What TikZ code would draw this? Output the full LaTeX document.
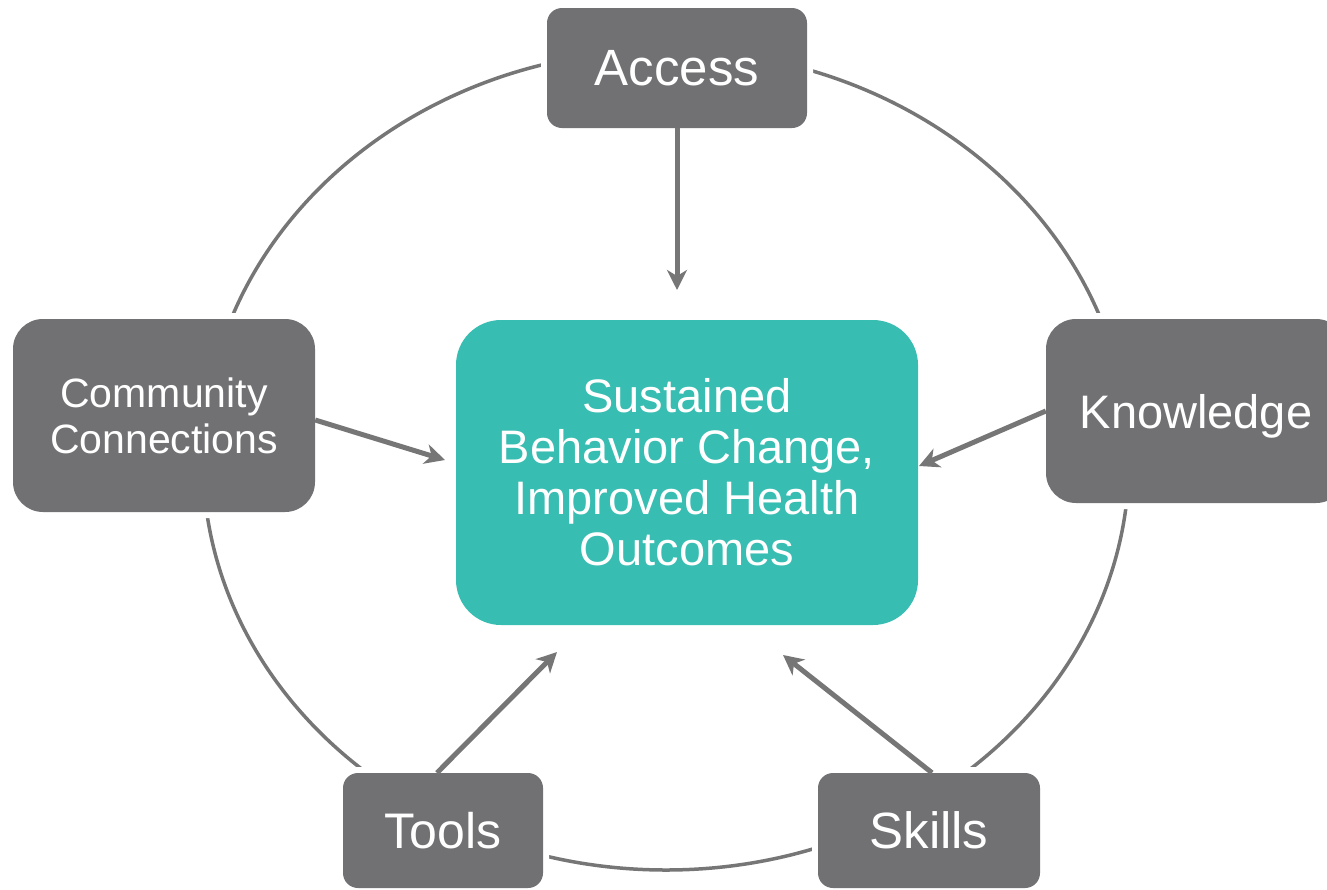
\documentclass[tikz,border=0pt]{standalone}
\usepackage{fontspec}
\setmainfont{Liberation Sans}
\usepackage{tikz}
\usetikzlibrary{arrows.meta}
\usetikzlibrary{positioning}
\usepackage{xcolor}
\definecolor{boxgray}{RGB}{113,112,115}
\definecolor{ringgray}{RGB}{118,118,118}
\definecolor{goalteal}{RGB}{55,189,177}

\begin{document}
\begin{tikzpicture}[x=1pt,y=-1pt]
		\tikzstyle{factor} = [rectangle, fill=boxgray, text=white, text depth=0pt, align=center,
			preaction={draw=white, line width=12pt}]
		\tikzstyle{goal} = [rectangle, fill=goalteal, text=white, align=center, rounded corners=45pt,
			minimum width=462pt, minimum height=305pt, font=\fontsize{47}{51}\selectfont]
		\tikzstyle{feed} = [line width=5pt, draw=ringgray, -{Stealth[length=20pt,width=20pt,inset=6pt]}]
		\useasboundingbox (0,0) rectangle (1327,889);

		% outer ring
		\draw [line width=3.5pt, ringgray] (666,460) ellipse [x radius=463pt, y radius=410pt];

		\node[goal] (outcome) at (687,472.5) {Sustained\\Behavior Change,\\Improved Health\\Outcomes};

		\node[factor, rounded corners=15pt, minimum width=260pt, minimum height=120pt,
			font=\fontsize{51}{56}\selectfont] (access) at (677,68) {Access};
		\node[factor, rounded corners=30pt, minimum width=300pt, minimum height=184pt,
			font=\fontsize{47}{52}\selectfont] (knowledge) at (1196,411) {Knowledge};
		\node[factor, rounded corners=15pt, minimum width=222pt, minimum height=115pt,
			font=\fontsize{51}{56}\selectfont] (skills) at (929,830.5) {Skills};
		\node[factor, rounded corners=15pt, minimum width=200pt, minimum height=115pt,
			font=\fontsize{50}{55}\selectfont] (tools) at (443,830.5) {Tools};
		\node[factor, rounded corners=30pt, minimum width=302pt, minimum height=193pt,
			font=\fontsize{41}{46}\selectfont] (community) at (164,415.5) {Community\\Connections};

		\coordinate (accessTip) at (677,290);
		\coordinate (knowledgeTip) at (919,466);
		\coordinate (skillsTip) at (783,655);
		\coordinate (toolsTip) at (557,652);
		\coordinate (communityTip) at (445,460);

		\draw [feed] (access.south) -- (accessTip);
		\draw [feed] (knowledge.west) -- (knowledgeTip);
		\draw [feed] ([xshift=3pt]skills.north) -- (skillsTip);
		\draw [feed] ([xshift=-6pt]tools.north) -- (toolsTip);
		\draw [feed] ([yshift=-4.5pt]community.east) -- (communityTip);

\end{tikzpicture}
\end{document}
